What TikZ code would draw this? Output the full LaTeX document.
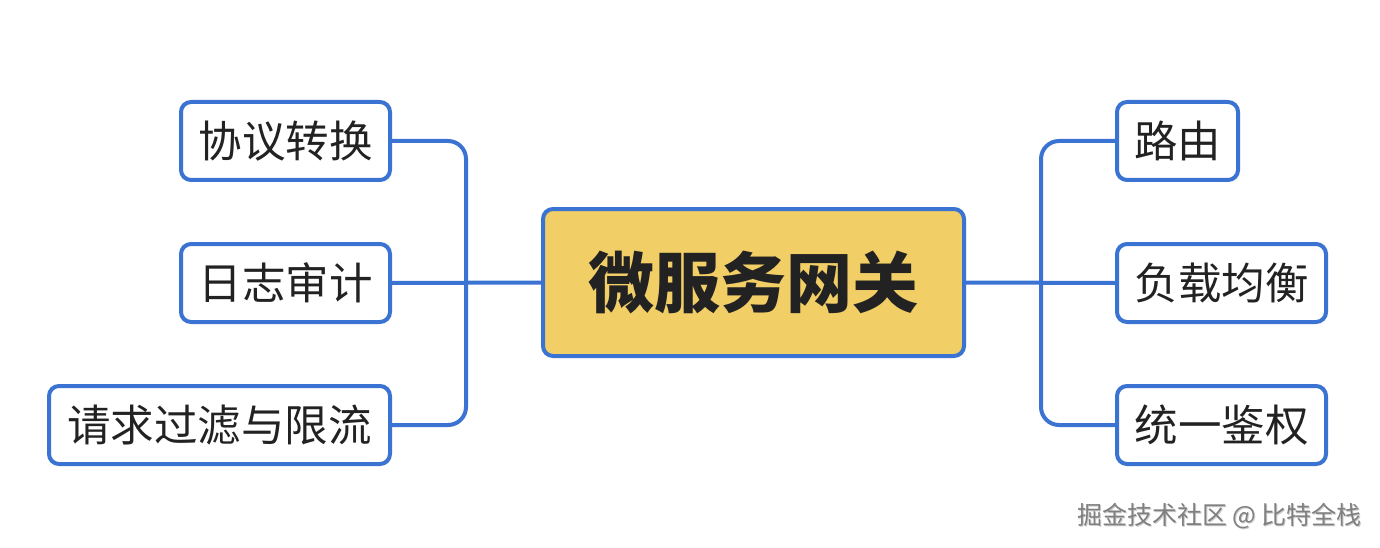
\documentclass[tikz,border=0pt]{standalone}
\usepackage{fontspec}
\setmainfont{Noto Sans CJK SC}
\newfontfamily\cjk{Noto Sans CJK SC}
\definecolor{bluel}{HTML}{3B73D3}
\definecolor{gold}{HTML}{F2CE66}
\definecolor{ink}{HTML}{222222}
\begin{document}
\begin{tikzpicture}[x=1pt,y=-1pt,
  leaf/.style={draw=bluel,line width=4pt,rounded corners=10pt,fill=white,minimum height=78pt,inner sep=0pt,text=ink,font=\fontsize{43.5}{43.5}\selectfont\cjk},
  hub/.style={draw=bluel,line width=4pt,rounded corners=10pt,fill=gold,minimum width=421pt,minimum height=147pt,inner sep=0pt,text=ink,font=\fontsize{66}{66}\selectfont\cjk\bfseries},
  link/.style={draw=bluel,line width=4pt,rounded corners=18pt}]
\useasboundingbox (0,0) rectangle (1380,548);
\fill[white] (0,0) rectangle (1380,548);
\coordinate (lb) at (466,283);
\coordinate (rb) at (1041,283);
\node[hub] (c) at (753.5,282.5) {微服务网关};
\node[leaf,minimum width=209pt] (l1) at (285.5,141) {协议转换};
\node[leaf,minimum width=209pt] (l2) at (285.5,283) {日志审计};
\node[leaf,minimum width=341pt] (l3) at (219.5,425) {请求过滤与限流};
\node[leaf,minimum width=121pt] (r1) at (1177.5,141) {路由};
\node[leaf,minimum width=209pt] (r2) at (1221.5,283) {负载均衡};
\node[leaf,minimum width=209pt] (r3) at (1221.5,425) {统一鉴权};
\draw[link] (l1.east) -- (lb |- l1.east) -- (lb |- l3.east) -- (l3.east);
\draw[link] (l2.east) -- (c.west);
\draw[link] (r1.west) -- (rb |- r1.west) -- (rb |- r3.west) -- (r3.west);
\draw[link] (c.east) -- (r2.west);
\node[text=black!20,anchor=center,font=\fontsize{25}{25}\selectfont\cjk] (wm0) at (1220.5,517.5) {掘金技术社区 @ 比特全栈};
\node[text=black!50,anchor=center,font=\fontsize{25}{25}\selectfont\cjk] (wm) at (1219.5,516.5) {掘金技术社区 @ 比特全栈};
\end{tikzpicture}
\end{document}
